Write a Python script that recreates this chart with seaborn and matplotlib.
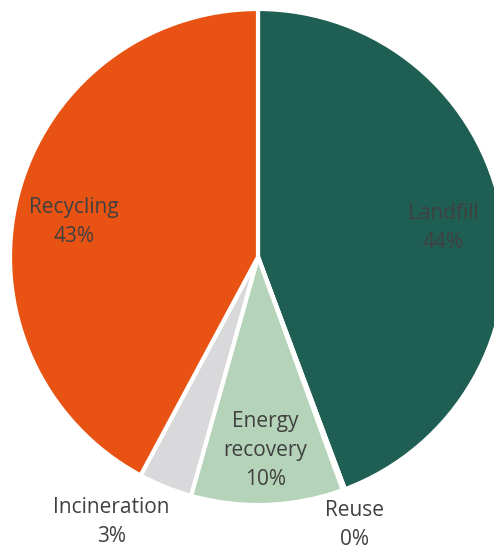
import matplotlib
matplotlib.use("Agg")
import matplotlib.pyplot as plt
import seaborn as sns
import numpy as np

# Waste treatment shares (clockwise from 12 o'clock)
categories = ["Landfill", "Reuse", "Energy\nrecovery", "Incineration", "Recycling"]
shares = [44.3, 0.15, 9.9, 3.5, 42.15]
shown_pct = ["44%", "0%", "10%", "3%", "43%"]
colors = ["#1F5E52", "#FFFFFF", "#B4D3B8", "#D9D9DB", "#E85314"]

sns.set_theme(style="white")
plt.rcParams["font.family"] = ["Open Sans", "DejaVu Sans"]

fig = plt.figure(figsize=(4.94, 5.49), dpi=100)
ax = fig.add_axes([10 / 494, 44 / 549, 496 / 494, 496 / 549])

wedges, _ = ax.pie(shares, colors=colors, startangle=90, counterclock=False,
                   radius=1, wedgeprops=dict(edgecolor="white", linewidth=3))
ax.set_xlim(-1, 1)
ax.set_ylim(-1, 1)
ax.set_aspect("equal")
ax.axis("off")

# label radius per slice (inside for big ones, outside for small)
label_r = [0.76, 1.15, 0.76, 1.22, 0.76]
label_shift = [0, -0.5, 0, -7, 2]
label_dy = [-0.02, 0, -0.02, 0, -0.02]
for w, cat, pct, r, sh, dy in zip(wedges, categories, shown_pct, label_r, label_shift, label_dy):
    mid = np.deg2rad((w.theta1 + w.theta2) / 2 + sh)
    ax.text(r * np.cos(mid), r * np.sin(mid) + dy, f"{cat}\n{pct}",
            ha="center", va="center", fontsize=15, color="#404040",
            linespacing=1.5, clip_on=False)

fig.savefig("out.png", dpi=100)
